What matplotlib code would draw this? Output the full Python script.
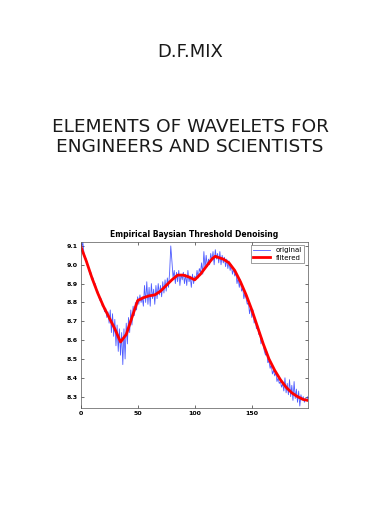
import numpy as np
import matplotlib.pyplot as plt

titulo = 'D.F.MIX'
libro = 'ELEMENTS OF WAVELETS FOR\nENGINEERS AND SCIENTISTS'
titulo_grafica = 'Empirical Baysian Threshold Denoising'

# senal original (200 muestras)
original = [
    9.11, 9.09, 9.12, 9.06, 9.04, 9.03, 9.00, 8.99, 8.95, 8.96,
    8.92, 8.93, 8.89, 8.90, 8.86, 8.86, 8.83, 8.81, 8.82, 8.78,
    8.79, 8.75, 8.77, 8.72, 8.75, 8.69, 8.76, 8.64, 8.74, 8.62,
    8.71, 8.57, 8.68, 8.54, 8.66, 8.52, 8.64, 8.47, 8.66, 8.50,
    8.69, 8.58, 8.72, 8.64, 8.76, 8.68, 8.78, 8.73, 8.80, 8.76,
    8.83, 8.79, 8.84, 8.80, 8.83, 8.78, 8.89, 8.80, 8.91, 8.79,
    8.88, 8.78, 8.90, 8.82, 8.87, 8.79, 8.89, 8.82, 8.90, 8.84,
    8.89, 8.83, 8.91, 8.85, 8.92, 8.86, 8.93, 8.88, 8.96, 9.10,
    9.02, 8.93, 8.97, 8.90, 8.96, 8.91, 8.97, 8.89, 8.95, 8.92,
    8.96, 8.90, 8.95, 8.89, 8.97, 8.91, 8.94, 8.88, 8.95, 8.90,
    8.94, 8.92, 8.97, 8.93, 8.98, 8.96, 9.01, 8.95, 9.07, 8.98,
    9.05, 8.99, 9.03, 9.00, 9.06, 9.02, 9.07, 9.00, 9.08, 9.03,
    9.06, 9.01, 9.07, 9.00, 9.05, 9.01, 9.04, 8.99, 9.03, 8.98,
    9.02, 8.97, 9.00, 8.95, 8.98, 8.94, 8.96, 8.90, 8.93, 8.88,
    8.92, 8.86, 8.88, 8.82, 8.85, 8.82, 8.79, 8.80, 8.74, 8.78,
    8.72, 8.76, 8.69, 8.71, 8.66, 8.68, 8.63, 8.64, 8.58, 8.61,
    8.57, 8.54, 8.52, 8.54, 8.48, 8.49, 8.45, 8.47, 8.42, 8.44,
    8.41, 8.43, 8.38, 8.40, 8.37, 8.38, 8.35, 8.37, 8.33, 8.40,
    8.32, 8.37, 8.31, 8.39, 8.30, 8.36, 8.28, 8.38, 8.29, 8.34,
    8.27, 8.33, 8.25, 8.31, 8.28, 8.30, 8.27, 8.29, 8.28, 8.30,
]

# senal filtrada, cada 5 muestras
n_filtrada = [0, 5, 10, 15, 20, 25, 30, 35, 40, 45, 50, 55, 60, 65, 70,
              75, 80, 85, 90, 95, 100, 105, 110, 115, 118, 120, 125, 130,
              135, 140, 145, 150, 155, 160, 165, 170, 175, 180, 185, 190,
              195, 199]
filtrada = [9.10, 9.02, 8.93, 8.85, 8.78, 8.72, 8.66, 8.59, 8.63, 8.72,
            8.81, 8.825, 8.835, 8.84, 8.86, 8.89, 8.92, 8.945, 8.945, 8.935,
            8.92, 8.95, 8.99, 9.03, 9.045, 9.04, 9.03, 9.01, 8.97, 8.91,
            8.84, 8.76, 8.67, 8.58, 8.50, 8.44, 8.39, 8.35, 8.32, 8.30,
            8.285, 8.28]

fig = plt.figure(figsize=(3.8, 5.21), dpi=100)
fig.text(0.5, 0.901, titulo, ha='center', va='center', fontsize=13,
         color='#1a1a1a', family='DejaVu Sans')
fig.text(0.5, 0.737, libro, ha='center', va='center', fontsize=13.3,
         color='#1a1a1a', family='DejaVu Sans', linespacing=1.2)

ax = fig.add_axes([0.212, 0.2163, 0.598, 0.32])
n = np.arange(len(original))
ax.plot(n, original, color='#2233ff', lw=0.6, alpha=0.8, label='original')
ax.plot(n_filtrada, filtrada, color='red', lw=2, label='filtered')
ax.set_xlim(0, 199)
ax.set_ylim(8.238, 9.123)
ax.set_xticks([0, 50, 100, 150])
ax.set_yticks([8.3, 8.4, 8.5, 8.6, 8.7, 8.8, 8.9, 9.0, 9.1])
ax.tick_params(direction='in', length=2, labelsize=4.5, width=0.4,
               top=True, right=True, pad=2)
for lab in ax.get_xticklabels() + ax.get_yticklabels():
    lab.set_fontweight('bold')
for s in ax.spines.values():
    s.set_linewidth(0.5)
    s.set_color('#555555')
ax.set_title(titulo_grafica, fontsize=5.5, pad=3, fontweight='bold')
ax.legend(loc='upper right', fontsize=5, frameon=True, fancybox=False,
          borderpad=0.3, handlelength=2.5, labelspacing=0.2,
          framealpha=1, edgecolor='#555555').get_frame().set_linewidth(0.4)

fig.savefig('out.png', dpi=100)
